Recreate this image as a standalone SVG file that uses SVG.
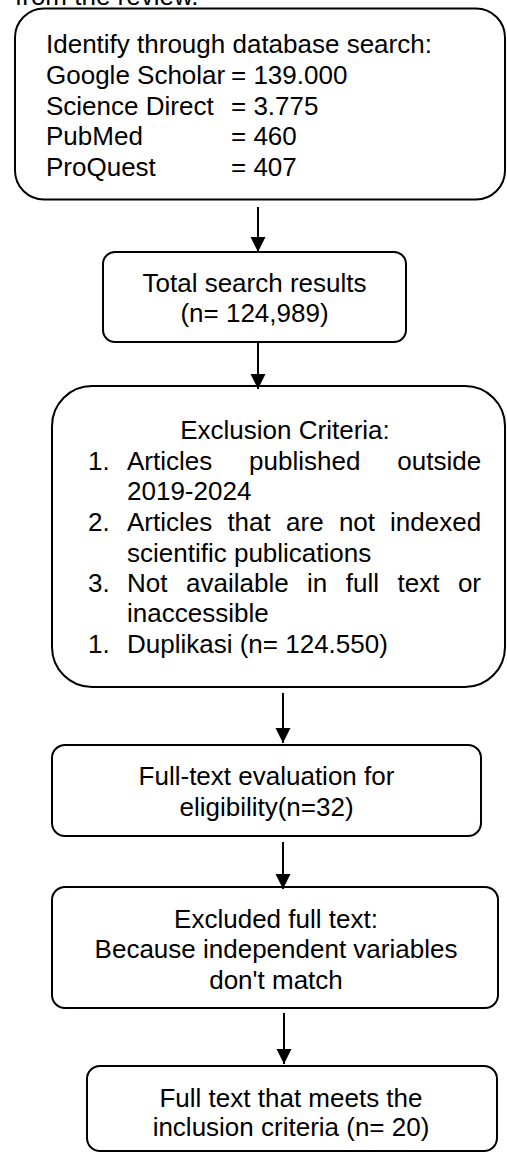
<svg xmlns="http://www.w3.org/2000/svg" width="507" height="1153" viewBox="0 0 507 1153">
<style>
text{font-family:"Liberation Sans",Arial,sans-serif;font-size:26px;fill:#000}
.c{text-anchor:middle}
.box{fill:#fff;stroke:#000;stroke-width:2}
.conn line{stroke:#000;stroke-width:2}
</style>
<defs>
<marker id="ah" markerUnits="userSpaceOnUse" markerWidth="16" markerHeight="16" refX="15" refY="7.5" orient="auto">
<path d="M0,0 L15,7.5 L0,15 z" fill="#000"/>
</marker>
</defs>
<rect width="507" height="1153" fill="#fff"/>
<text x="15" y="5">from the review.</text>

<g id="n1">
<rect class="box" x="15" y="8.5" width="490" height="191" rx="29"/>
<text x="46" y="53">Identify through database search:</text>
<text x="46" y="84">Google Scholar</text><text x="231" y="84">= 139.000</text>
<text x="46" y="115">Science Direct</text><text x="231" y="115">= 3.775</text>
<text x="46" y="145">PubMed</text><text x="231" y="145">= 460</text>
<text x="46" y="176">ProQuest</text><text x="231" y="176">= 407</text>
</g>

<g id="n2">
<rect class="box" x="103" y="252" width="303" height="90" rx="12"/>
<text class="c" x="254.5" y="292">Total search results</text>
<text class="c" x="254.5" y="322">(n= 124,989)</text>
</g>

<g id="n3">
<rect class="box" x="52" y="386" width="453" height="301" rx="40"/>
<text class="c" x="285" y="439">Exclusion Criteria:</text>
<text x="88" y="470">1.</text>
<text y="470"><tspan x="127">Articles</tspan><tspan x="249.1">published</tspan><tspan x="397.3">outside</tspan></text>
<text x="127" y="500">2019-2024</text>
<text x="88" y="531">2.</text>
<text y="531"><tspan x="127">Articles</tspan><tspan x="227.4">that</tspan><tspan x="286.1">are</tspan><tspan x="338.9">not</tspan><tspan x="390.1">indexed</tspan></text>
<text x="127" y="562">scientific publications</text>
<text x="88" y="592">3.</text>
<text y="592"><tspan x="127">Not</tspan><tspan x="186">available</tspan><tspan x="307.1">in</tspan><tspan x="345.8">full</tspan><tspan x="397.5">text</tspan><tspan x="457.9">or</tspan></text>
<text x="127" y="622">inaccessible</text>
<text x="88" y="653">1.</text>
<text x="127" y="653">Duplikasi (n= 124.550)</text>
</g>

<g id="n4">
<rect class="box" x="52" y="745" width="429" height="91" rx="13"/>
<text class="c" x="266.5" y="785">Full-text evaluation for</text>
<text class="c" x="266.5" y="816">eligibility(n=32)</text>
</g>

<g id="n5">
<rect class="box" x="52" y="887" width="446" height="121" rx="13"/>
<text class="c" x="276" y="928">Excluded full text:</text>
<text class="c" x="276" y="958">Because independent variables</text>
<text class="c" x="276" y="989">don't match</text>
</g>

<g id="n6">
<rect class="box" x="87" y="1066" width="410" height="85" rx="13"/>
<text class="c" x="291" y="1107">Full text that meets the</text>
<text class="c" x="291" y="1136">inclusion criteria (n= 20)</text>
</g>

<g id="connectors" class="conn">
<line x1="258" y1="207" x2="258" y2="252" marker-end="url(#ah)"/>
<line x1="258" y1="342" x2="258" y2="389" marker-end="url(#ah)"/>
<line x1="283" y1="693" x2="283" y2="743" marker-end="url(#ah)"/>
<line x1="283" y1="842" x2="283" y2="889" marker-end="url(#ah)"/>
<line x1="284" y1="1013" x2="284" y2="1064" marker-end="url(#ah)"/>
</g>
</svg>
